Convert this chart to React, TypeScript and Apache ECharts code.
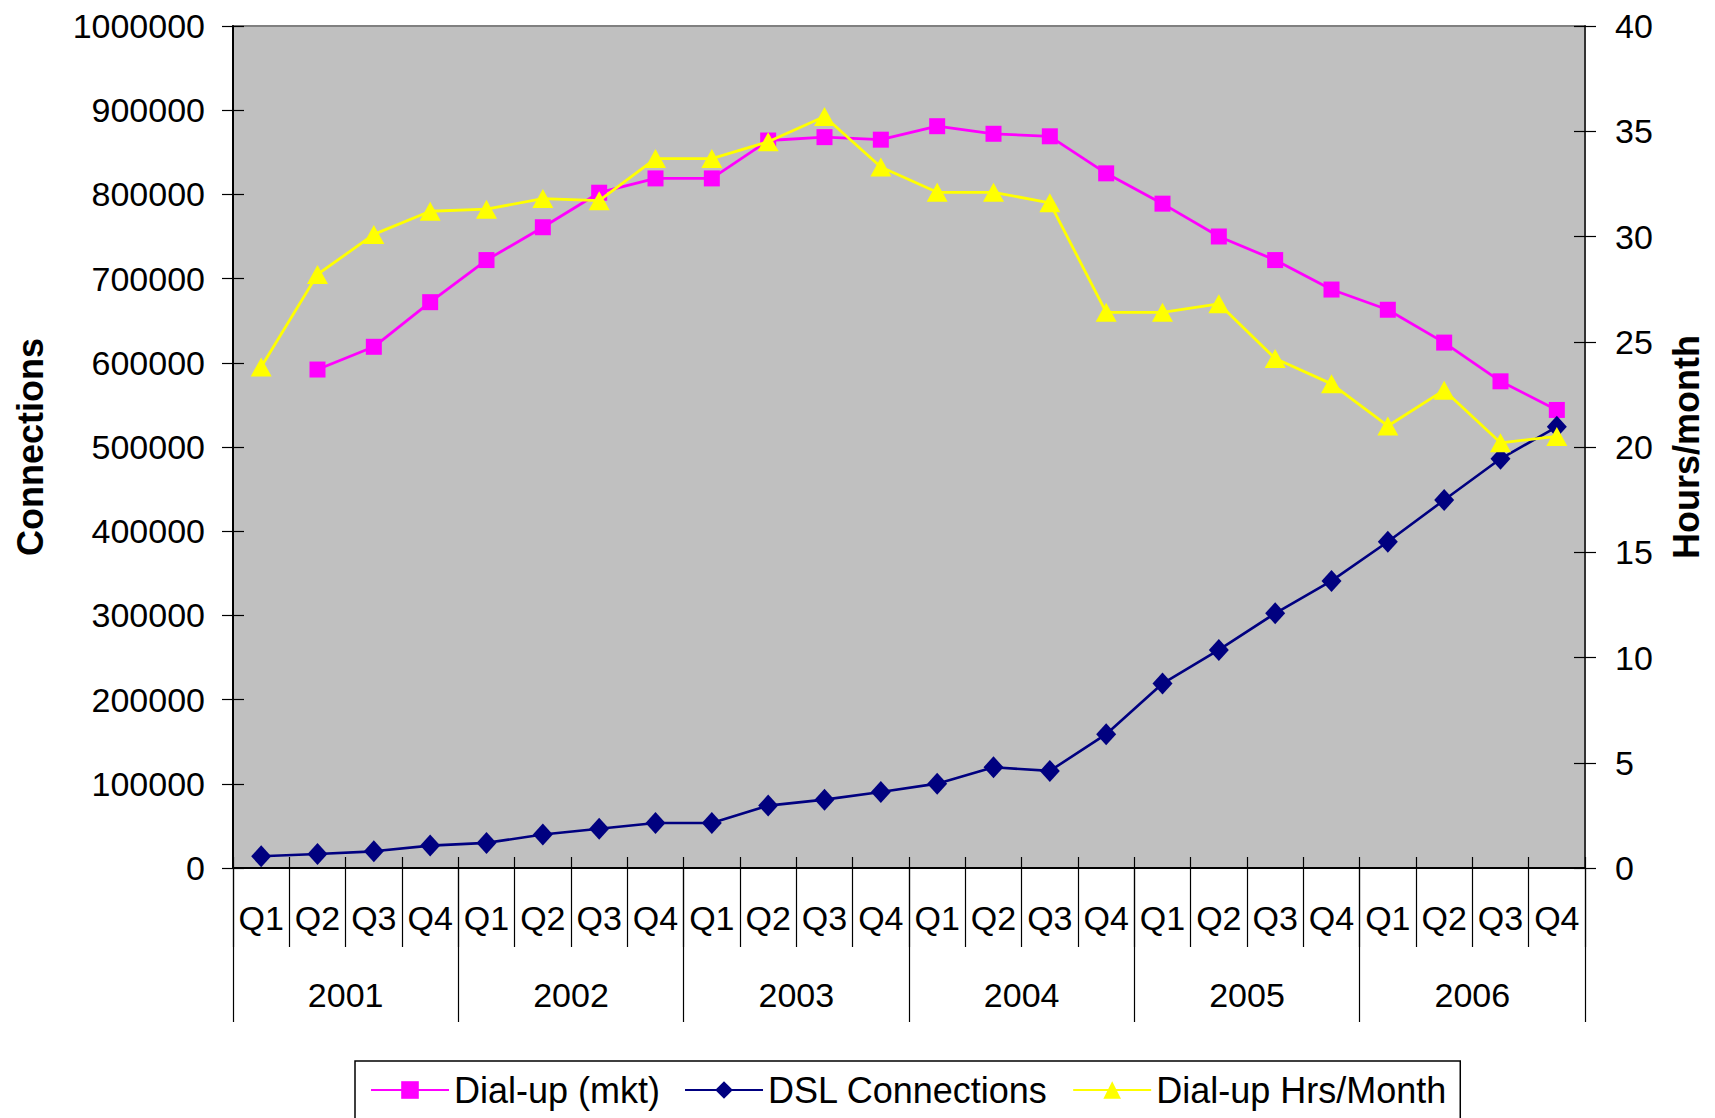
import React, { useEffect, useRef } from "react";
import * as echarts from "echarts";

// Quarterly categories and year groups
const quarters = [
  "Q1", "Q2", "Q3", "Q4", "Q1", "Q2", "Q3", "Q4", "Q1", "Q2", "Q3", "Q4",
  "Q1", "Q2", "Q3", "Q4", "Q1", "Q2", "Q3", "Q4", "Q1", "Q2", "Q3", "Q4",
];
const years = ["2001", "2002", "2003", "2004", "2005", "2006"];

// Dial-up market connections (no figure for Q1 2001)
const dialUpMkt = [
  null, 592000, 619000, 672000, 722000, 761000, 802000, 819000,
  819000, 864000, 868000, 865000, 881000, 872000, 869000, 825000,
  789000, 750000, 722000, 687000, 663000, 624000, 578000, 544000,
];

// DSL connections
const dslConnections = [
  13900, 16700, 19800, 26600, 29800, 39700, 46700, 53500,
  53500, 74100, 81200, 90300, 100200, 119600, 115300, 158900,
  219100, 259000, 302500, 341000, 387500, 437000, 486000, 524000,
];

// Dial-up hours per month (right axis)
const dialUpHours = [
  23.8, 28.2, 30.1, 31.2, 31.3, 31.8, 31.7, 33.7,
  33.7, 34.5, 35.7, 33.3, 32.1, 32.1, 31.6, 26.4,
  26.4, 26.8, 24.2, 23.0, 21.0, 22.7, 20.2, 20.5,
];

const FONT = "'Liberation Sans', Arial, sans-serif";
const FS = 34;
const TITLE_FS = 36;

export default function App() {
  const ref = useRef<HTMLDivElement>(null);

  useEffect(() => {
    if (!ref.current) return;
    const chart = echarts.init(ref.current, undefined, { renderer: "svg" });

    const leftScale = { min: 0, max: 1000000, interval: 100000 };
    const rightScale = { min: 0, max: 40, interval: 5 };
    const plain = (v: number) => String(v);

    chart.setOption({
      animation: false,
      backgroundColor: "#ffffff",
      textStyle: { fontFamily: FONT, color: "#000" },
      grid: {
        left: 233,
        right: 130,
        top: 26,
        bottom: 250,
        show: true,
        backgroundColor: "#C0C0C0",
        borderColor: "#808080",
        borderWidth: 2,
      },
      legend: {
        left: 355,
        top: 1061,
        padding: [11, 14, 24, 15],
        borderColor: "#000",
        borderWidth: 1.5,
        backgroundColor: "#fff",
        itemWidth: 78,
        itemHeight: 22,
        itemGap: 24,
        textStyle: { fontSize: TITLE_FS, color: "#000", fontFamily: FONT },
        data: ["Dial-up (mkt)", "DSL Connections", "Dial-up Hrs/Month"],
      },
      xAxis: [
        {
          type: "category",
          data: quarters,
          position: "bottom",
          boundaryGap: true,
          axisLine: { show: true, lineStyle: { color: "#000", width: 2 } },
          axisTick: { show: true, interval: 0, length: 79, lineStyle: { color: "#000", width: 1.2 } },
          axisLabel: { interval: 0, fontSize: FS, color: "#000", margin: 33, fontFamily: FONT },
          splitLine: { show: false },
        },
        {
          type: "category",
          data: years,
          position: "bottom",
          boundaryGap: true,
          axisLine: { show: false },
          axisTick: { show: true, interval: 0, length: 154, lineStyle: { color: "#000", width: 1.2 } },
          axisLabel: { interval: 0, fontSize: FS, color: "#000", margin: 110, fontFamily: FONT },
          splitLine: { show: false },
        },
        {
          type: "category",
          data: quarters,
          position: "bottom",
          boundaryGap: true,
          axisLine: { show: false },
          axisTick: { show: true, inside: true, interval: 0, length: 11, lineStyle: { color: "#000", width: 1.2 } },
          axisLabel: { show: false },
          splitLine: { show: false },
        },
      ],
      yAxis: [
        {
          type: "value",
          position: "left",
          ...leftScale,
          name: "Connections",
          nameLocation: "middle",
          nameRotate: 90,
          nameGap: 185,
          nameTextStyle: { fontSize: TITLE_FS, fontWeight: "bold", color: "#000", fontFamily: FONT },
          axisLine: { show: true, lineStyle: { color: "#000", width: 2 } },
          axisTick: { show: true, length: 11, lineStyle: { color: "#000", width: 1.2 } },
          axisLabel: { fontSize: FS, color: "#000", margin: 28, fontFamily: FONT, formatter: plain },
          splitLine: { show: false },
        },
        {
          type: "value",
          position: "right",
          ...rightScale,
          name: "Hours/month",
          nameLocation: "middle",
          nameRotate: 90,
          nameGap: 83,
          nameTextStyle: { fontSize: TITLE_FS, fontWeight: "bold", color: "#000", fontFamily: FONT },
          axisLine: { show: true, lineStyle: { color: "#333", width: 2 } },
          axisTick: { show: true, length: 11, lineStyle: { color: "#000", width: 1.2 } },
          axisLabel: { fontSize: FS, color: "#000", margin: 30, fontFamily: FONT, formatter: plain },
          splitLine: { show: false },
        },
        {
          type: "value",
          position: "left",
          ...leftScale,
          axisLine: { show: false },
          axisTick: { show: true, inside: true, length: 11, lineStyle: { color: "#000", width: 1.2 } },
          axisLabel: { show: false },
          splitLine: { show: false },
        },
        {
          type: "value",
          position: "right",
          ...rightScale,
          axisLine: { show: false },
          axisTick: { show: true, inside: true, length: 11, lineStyle: { color: "#000", width: 1.2 } },
          axisLabel: { show: false },
          splitLine: { show: false },
        },
      ],
      series: [
        {
          name: "Dial-up (mkt)",
          type: "line",
          xAxisIndex: 0,
          yAxisIndex: 0,
          data: dialUpMkt,
          symbol: "rect",
          symbolSize: 16,
          connectNulls: false,
          lineStyle: { color: "#FF00FF", width: 2.8 },
          itemStyle: { color: "#FF00FF", borderWidth: 0 },
          z: 3,
        },
        {
          name: "DSL Connections",
          type: "line",
          xAxisIndex: 0,
          yAxisIndex: 0,
          data: dslConnections,
          symbol: "diamond",
          symbolSize: [20, 22],
          lineStyle: { color: "#000080", width: 2.6 },
          itemStyle: { color: "#000080", borderWidth: 0 },
          z: 4,
        },
        {
          name: "Dial-up Hrs/Month",
          type: "line",
          xAxisIndex: 0,
          yAxisIndex: 1,
          data: dialUpHours,
          symbol: "triangle",
          symbolSize: [21, 19],
          lineStyle: { color: "#FFFF00", width: 2.8 },
          itemStyle: { color: "#FFFF00", borderWidth: 0 },
          z: 5,
        },
      ],
    });

    return () => chart.dispose();
  }, []);

  return (
    <div
      ref={ref}
      style={{ position: "fixed", left: 0, top: 0, width: 1715, height: 1118 }}
    />
  );
}
